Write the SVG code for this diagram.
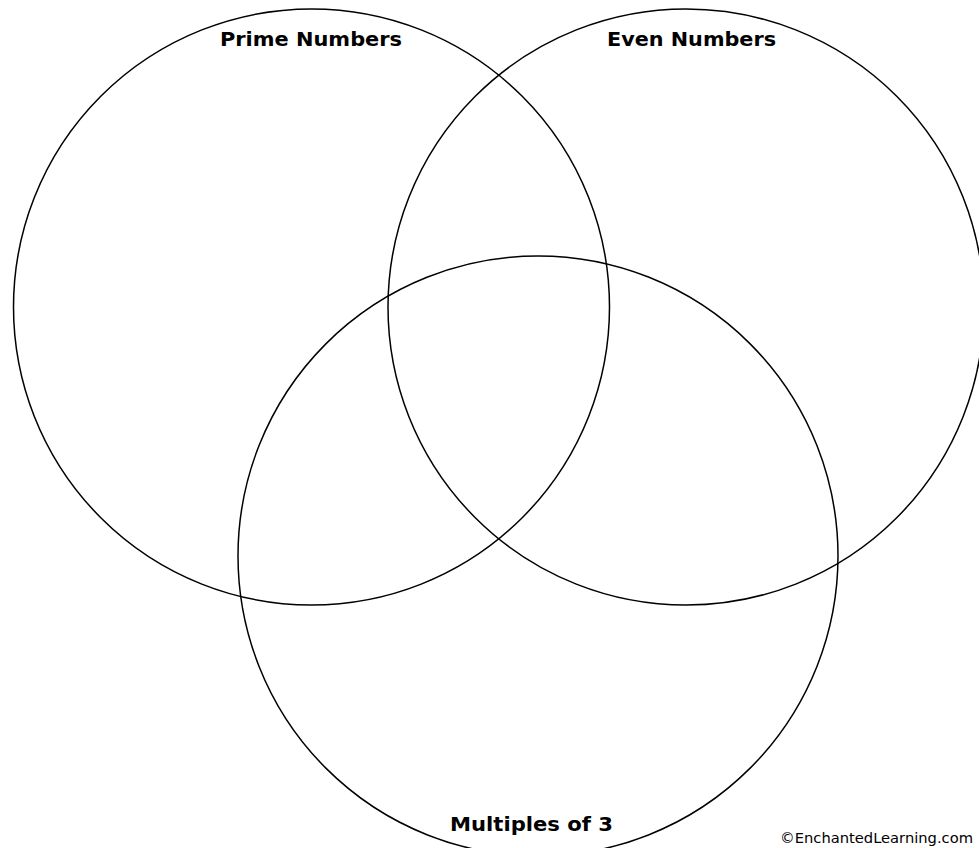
<svg xmlns="http://www.w3.org/2000/svg" width="979" height="848" viewBox="0 0 979 848">
<style>
.c{fill:none;stroke:#000;stroke-width:1.5}
.t{font-family:"DejaVu Sans","Liberation Sans",sans-serif;font-weight:bold;font-size:19px;fill:#000}
.s{font-family:"DejaVu Sans","Liberation Sans",sans-serif;font-size:14px;fill:#000}
</style>
<rect width="979" height="848" fill="#fff"/>
<g id="prime"><circle class="c" cx="311.5" cy="307" r="298"/><text class="t" x="220" y="46" textLength="182" lengthAdjust="spacingAndGlyphs">Prime Numbers</text></g>
<g id="even"><circle class="c" cx="686" cy="307" r="298"/><text class="t" x="607" y="46" textLength="169" lengthAdjust="spacingAndGlyphs">Even Numbers</text></g>
<g id="mult3"><circle class="c" cx="538" cy="556" r="300"/><text class="t" x="450" y="831" textLength="163" lengthAdjust="spacingAndGlyphs">Multiples of 3</text></g>
<g id="credit"><text class="s" x="780" y="843" textLength="193" lengthAdjust="spacingAndGlyphs">©EnchantedLearning.com</text></g>
</svg>
